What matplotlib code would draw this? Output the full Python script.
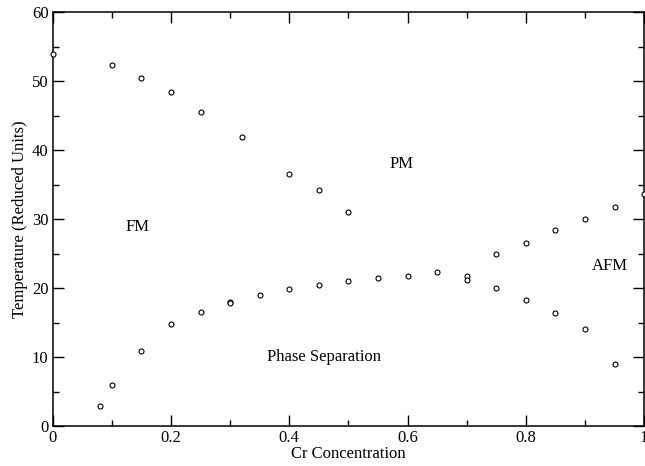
import matplotlib.pyplot as plt
import numpy as np

plt.rcParams["font.family"] = ["Liberation Serif", "DejaVu Serif"]

# FM / PM boundary
fm_x = [0.0, 0.10, 0.15, 0.20, 0.25, 0.32, 0.40, 0.45, 0.50]
fm_y = [54.0, 52.3, 50.5, 48.4, 45.5, 41.9, 36.5, 34.2, 31.0]

# FM / phase separation boundary rising to the triple point
ps_x = [0.08, 0.10, 0.15, 0.20, 0.25, 0.30, 0.30, 0.35, 0.40, 0.45, 0.50, 0.55, 0.60, 0.65, 0.70, 0.70]
ps_y = [2.85, 5.9, 10.9, 14.8, 16.6, 18.0, 17.8, 19.0, 19.8, 20.4, 21.0, 21.4, 21.8, 22.3, 21.8, 21.2]

# AFM / PM boundary
afm_x = [0.75, 0.80, 0.85, 0.90, 0.95, 1.00]
afm_y = [24.9, 26.6, 28.4, 30.0, 31.8, 33.6]

# AFM / phase separation boundary
low_x = [0.75, 0.80, 0.85, 0.90, 0.95]
low_y = [20.0, 18.3, 16.4, 14.0, 9.0]

fig = plt.figure(figsize=(6.45, 4.66), dpi=100)
ax = fig.add_axes([0.0817, 0.0858, 0.917, 0.888])

for xs, ys in [(fm_x, fm_y), (ps_x, ps_y), (afm_x, afm_y), (low_x, low_y)]:
    ax.plot(xs, ys, "o", ms=3.6, mfc="white", mec="black", mew=0.8, clip_on=False, zorder=3)

ax.set_xlim(0, 1)
ax.set_ylim(0, 60)
ax.set_xticks(np.arange(0, 1.01, 0.2))
ax.set_xticklabels(["0", "0.2", "0.4", "0.6", "0.8", "1"])
ax.set_xticks(np.arange(0.1, 1.0, 0.2), minor=True)
ax.set_yticks(np.arange(0, 61, 10))
ax.set_yticks(np.arange(5, 60, 10), minor=True)
ax.tick_params(which="both", direction="in", top=True, right=True, labelsize=12, width=1.0)
ax.tick_params(which="major", length=8, pad=3)
ax.tick_params(which="minor", length=4)
for s in ax.spines.values():
    s.set_linewidth(1.1)

ax.set_xlabel("Cr Concentration", fontsize=12, labelpad=0)
ax.set_ylabel("Temperature (Reduced Units)", fontsize=12, labelpad=3)

ax.text(0.143, 28.8, "FM", fontsize=12, ha="center", va="center")
ax.text(0.589, 38.0, "PM", fontsize=12, ha="center", va="center")
ax.text(0.942, 23.2, "AFM", fontsize=12, ha="center", va="center")
ax.text(0.459, 10.0, "Phase Separation", fontsize=12, ha="center", va="center")

fig.savefig("out.png", dpi=100)
